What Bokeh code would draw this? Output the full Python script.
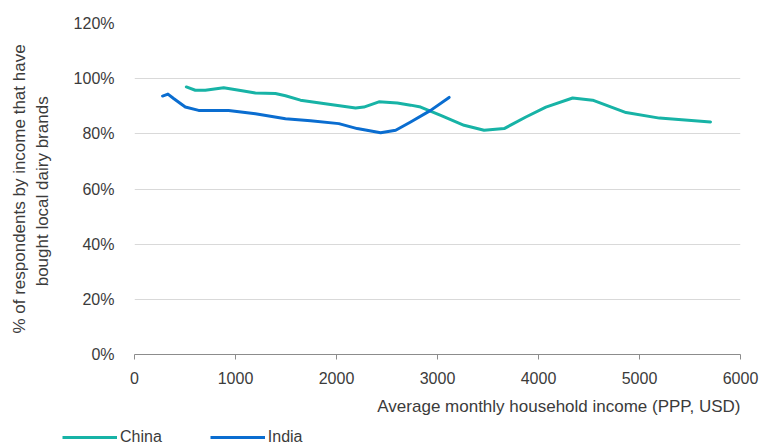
from bokeh.plotting import figure
from bokeh.layouts import column
from bokeh.models import (Range1d, FixedTicker, NumeralTickFormatter, Legend, LegendItem, Title)
from bokeh.embed import file_html
from bokeh.resources import INLINE

# Data
china_income = [513, 602, 701, 883, 1065, 1197, 1395, 1495, 1643, 1941, 2189, 2271,
                2420, 2602, 2734, 2833, 3032, 3263, 3461, 3660, 3875, 4073, 4338,
                4536, 4867, 5197, 5703]
china_share = [97.0, 95.8, 95.8, 96.7, 95.6, 94.8, 94.6, 93.8, 92.2, 90.6, 89.4, 89.7,
               91.6, 91.2, 90.4, 89.7, 86.7, 83.1, 81.3, 81.9, 86.1, 89.7, 93.0,
               92.2, 87.7, 85.7, 84.3]
india_income = [278, 331, 387, 503, 635, 932, 1197, 1495, 1743, 2023, 2205, 2437,
                2586, 2734, 2932, 3115]
india_share = [93.7, 94.4, 92.8, 89.7, 88.5, 88.5, 87.3, 85.5, 84.7, 83.7, 81.9, 80.4,
               81.3, 84.3, 88.5, 93.2]
x_ticks = [0, 1000, 2000, 3000, 4000, 5000, 6000]
y_ticks = [0, 0.2, 0.4, 0.6, 0.8, 1.0, 1.2]
series_names = ["China", "India"]

TEXT = "#3b3b3b"
FONT = "Liberation Sans"
CHINA_C = "#17b3a6"
INDIA_C = "#0a6dd0"

p = figure(width=771, height=427, output_backend="svg", toolbar_location=None,
           x_range=Range1d(0, 6000), y_range=Range1d(0, 1.2),
           min_border_left=134, min_border_right=31, min_border_top=23, min_border_bottom=73)
p.outline_line_color = None
p.xgrid.grid_line_color = None
p.ygrid.grid_line_color = "#d9d9d9"
p.ygrid.grid_line_width = 1
p.ygrid.ticker = FixedTicker(ticks=y_ticks)

p.xaxis.ticker = FixedTicker(ticks=x_ticks)
p.xaxis.axis_line_color = "#8c8c8c"
p.xaxis.major_tick_line_color = "#8c8c8c"
p.xaxis.major_tick_out = 5
p.xaxis.major_tick_in = 0
p.xaxis.minor_tick_line_color = None
p.xaxis.major_label_standoff = 12
p.xaxis.major_label_text_font = FONT
p.xaxis.major_label_text_font_size = "16px"
p.xaxis.major_label_text_color = TEXT

p.yaxis.ticker = FixedTicker(ticks=y_ticks)
p.yaxis.formatter = NumeralTickFormatter(format="0%")
p.yaxis.axis_line_color = None
p.yaxis.major_tick_line_color = None
p.yaxis.minor_tick_line_color = None
p.yaxis.major_label_standoff = 14
p.yaxis.major_label_text_font = FONT
p.yaxis.major_label_text_font_size = "16px"
p.yaxis.major_label_text_color = TEXT
p.yaxis.axis_label = "% of respondents by income that have\nbought  local dairy brands"
p.yaxis.axis_label_text_font = FONT
p.yaxis.axis_label_text_font_size = "17px"
p.yaxis.axis_label_text_font_style = "normal"
p.yaxis.axis_label_text_color = TEXT
p.yaxis.axis_label_standoff = 19

xt = Title(text="Average monthly household income (PPP, USD)", align="right",
           text_font=FONT, text_font_size="17px", text_font_style="normal",
           text_color=TEXT, offset=0, standoff=17)
p.add_layout(xt, "below")

cs = [v / 100 for v in china_share]
ins = [v / 100 for v in india_share]
p.line(china_income, cs, line_color=CHINA_C, line_width=3, line_cap="round", line_join="round")
p.line(india_income, ins, line_color=INDIA_C, line_width=3, line_cap="round", line_join="round")

# Legend strip below the chart (its own small figure, series drawn off-range)
lf = figure(width=771, height=21, output_backend="svg", toolbar_location=None,
            x_range=Range1d(0, 1), y_range=Range1d(0, 1),
            x_axis_location=None, y_axis_location=None,
            min_border_left=0, min_border_right=0, min_border_top=0, min_border_bottom=0)
lf.frame_align = False
lf.grid.grid_line_color = None
lf.outline_line_color = None
l1 = lf.line(china_income, cs, line_color=CHINA_C, line_width=3)
l2 = lf.line(india_income, ins, line_color=INDIA_C, line_width=3)
legend = Legend(items=[LegendItem(label=series_names[0], renderers=[l1]),
                       LegendItem(label=series_names[1], renderers=[l2])],
                orientation="horizontal", location=(62, 2),
                glyph_width=55, glyph_height=16, label_height=16, label_standoff=3, spacing=48,
                padding=0, margin=0, border_line_color=None, background_fill_alpha=0,
                label_text_font=FONT, label_text_font_size="16px", label_text_color=TEXT)
lf.add_layout(legend, "center")

layout = column(p, lf, spacing=0)
open("out.html", "w").write(file_html(layout, INLINE))
